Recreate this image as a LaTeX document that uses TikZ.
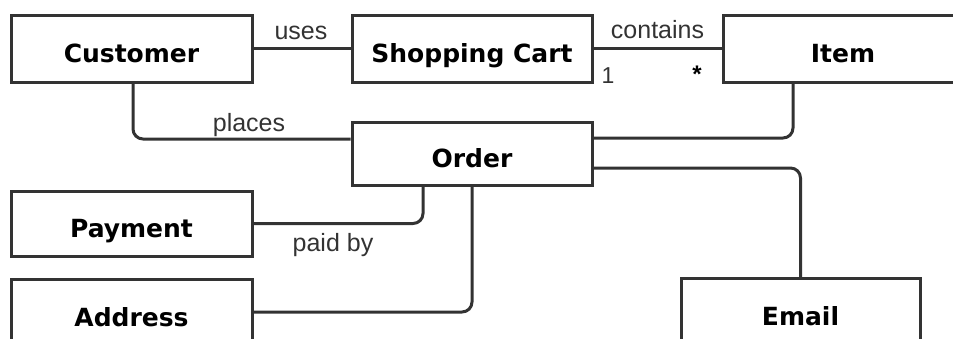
\documentclass[tikz,border=0pt]{standalone}
\usepackage{fontspec}
\setmainfont{Liberation Sans}
\newfontfamily\boxfont{DejaVu Sans}
\definecolor{edge}{HTML}{333333}
\definecolor{lbl}{HTML}{333333}
\begin{document}
\begin{tikzpicture}[x=1pt,y=-1pt,
  entity/.style={draw=edge, line width=3pt, fill=white, rectangle, inner sep=0pt,
    minimum width=241pt, minimum height=65pt, text height=28pt, text depth=0pt,
    font=\boxfont\bfseries\fontsize{25}{28}\selectfont, text=black},
  conn/.style={draw=edge, line width=3pt, rounded corners=10pt},
  lab/.style={anchor=base, inner sep=0pt, text=lbl, font=\fontsize{25}{28}\selectfont}
]
\useasboundingbox (0,0) rectangle (953,338);

\node[entity, minimum height=67pt] (customer) at (131.5,48.5) {Customer};
\node[entity, minimum width=240pt, minimum height=67pt] (cart) at (472,48.5) {Shopping Cart};
\node[entity, minimum width=240pt, minimum height=67pt] (item) at (843,48.5) {Item};
\node[entity, minimum width=240pt, minimum height=63pt] (order) at (472,153.5) {Order};
\node[entity] (payment) at (131.5,223.5) {Payment};
\node[entity] (address) at (131.5,312) {Address};
\node[entity, minimum width=239pt] (email) at (800.5,311) {Email};

% connectors
\draw[conn] (customer.east) -- (cart.west);
\draw[conn] (cart.east) -- (item.west);
\draw[conn] ([xshift=1.5pt]customer.south) |- ([yshift=14.5pt]order.west);
\draw[conn] ([xshift=-50pt]item.south) |- ([yshift=15.5pt]order.east);
\draw[conn] ([yshift=-14.5pt]order.east) -| (email.north);
\draw[conn] (payment.east) -| ([xshift=-49pt]order.south);
\draw[conn] (address.east) -| (order.south);

% labels
\node[lab] (uses) at (301,39) {uses};
\node[lab] (contains) at (657.5,38) {contains};
\node[lab, font=\fontsize{23}{26}\selectfont] (one) at (608,83) {1};
\node[lab, text=black, font=\bfseries\fontsize{24}{26}\selectfont] (many) at (697,82) {*};
\node[lab] (places) at (249,131) {places};
\node[lab] (paidby) at (333,251) {paid by};
\end{tikzpicture}
\end{document}
